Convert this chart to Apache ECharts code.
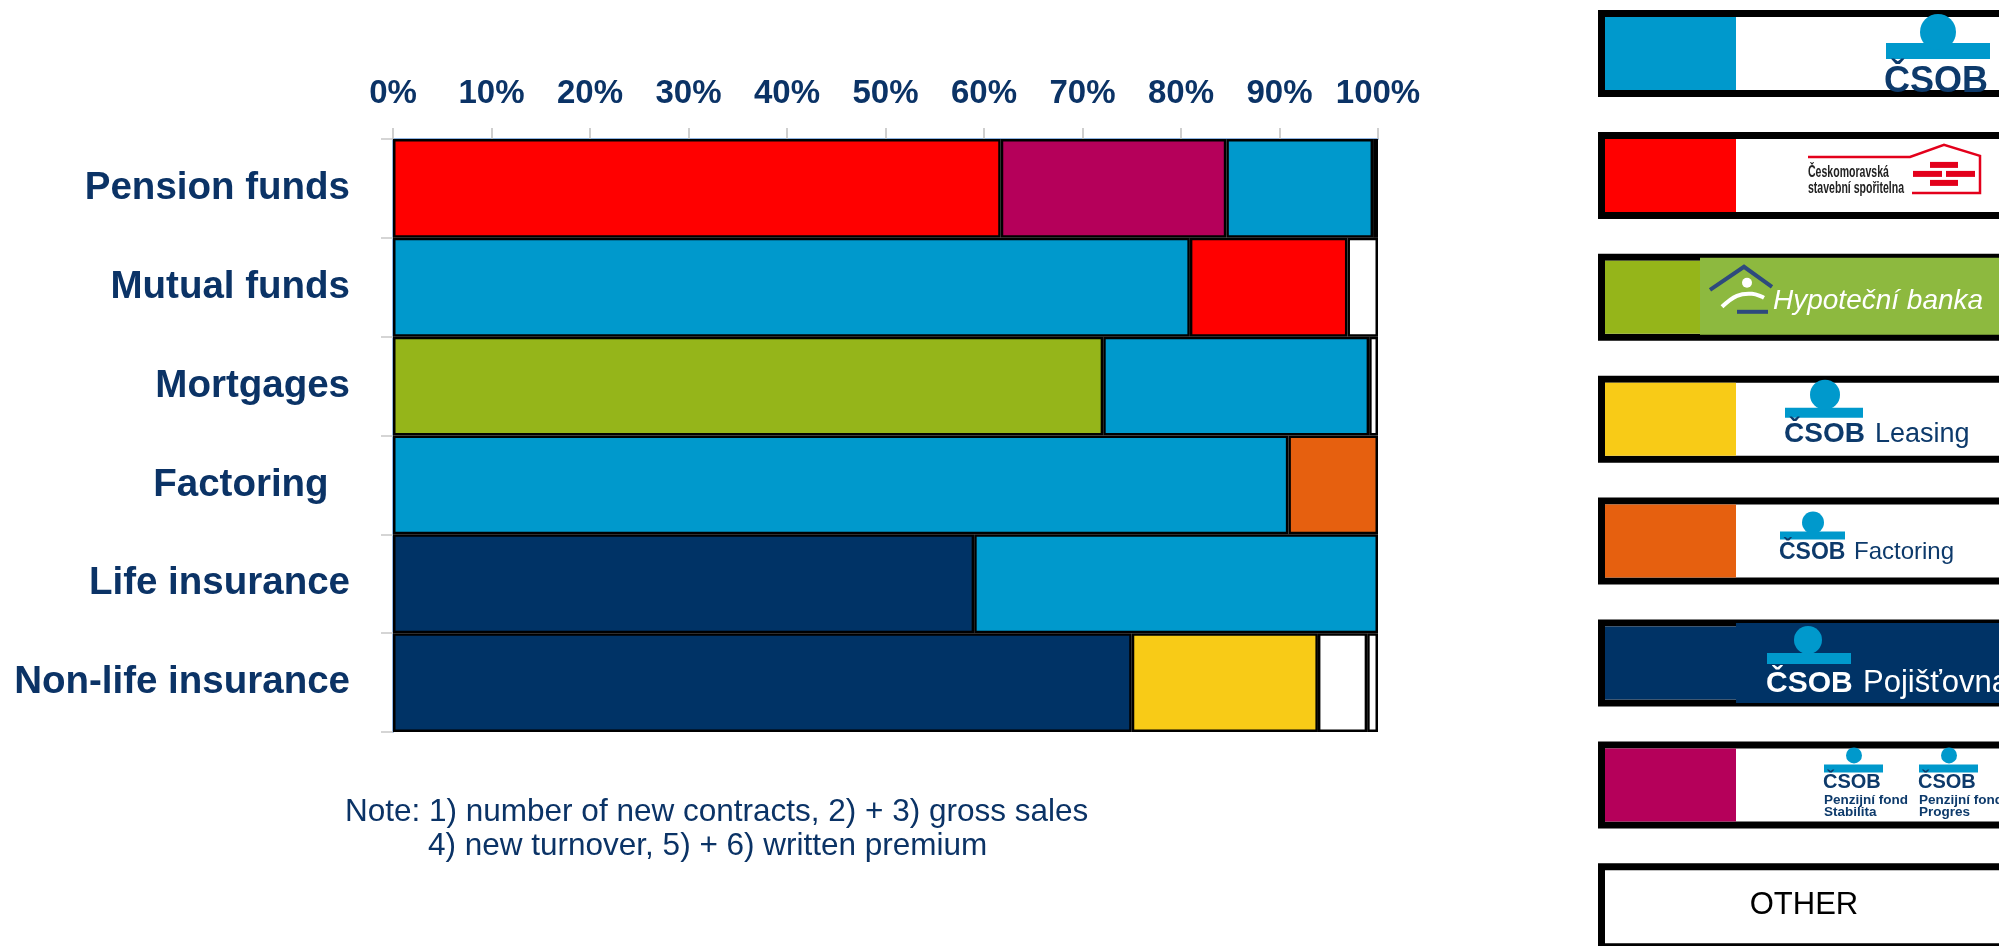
<!DOCTYPE html>
<html>
<head>
<meta charset="utf-8">
<script src="https://cdn.jsdelivr.net/npm/echarts@6/dist/echarts.min.js"></script>
<style>
html,body{margin:0;padding:0;background:#fff;}
#chart{width:1999px;height:946px;}
</style>
</head>
<body>
<div id="chart"></div>
<script>
// ---------- data ----------
const categories = ['Pension funds', 'Mutual funds', 'Mortgages', 'Factoring  ', 'Life insurance', 'Non-life insurance'];
const xTickLabels = ['0%', '10%', '20%', '30%', '40%', '50%', '60%', '70%', '80%', '90%', '100%'];
const companies = ['ČSOB', 'ČMSS', 'Hypoteční banka', 'ČSOB Leasing', 'ČSOB Factoring', 'ČSOB Pojišťovna', 'ČSOB Penzijní fondy', 'Other'];
const companyColors = ['#0099CC', '#FF0000', '#95B51A', '#F8CB17', '#E6600F', '#003366', '#B5005A', '#FFFFFF'];

// market shares (%) in each bar, left to right
const pensionFundsShares = [['ČMSS', 61.7], ['ČSOB Penzijní fondy', 22.9], ['ČSOB', 14.9], ['Other', 0.5]];
const mutualFundsShares = [['ČSOB', 80.9], ['ČMSS', 16.0], ['Other', 3.1]];
const mortgagesShares = [['Hypoteční banka', 72.1], ['ČSOB', 27.0], ['Other', 0.9]];
const factoringShares = [['ČSOB', 90.9], ['ČSOB Factoring', 9.1]];
const lifeInsuranceShares = [['ČSOB Pojišťovna', 59.0], ['ČSOB', 41.0]];
const nonLifeInsuranceShares = [['ČSOB Pojišťovna', 75.0], ['ČSOB Leasing', 18.9], ['Other', 5.0], ['Other', 1.1]];

const noteLines = ['Note: 1) number of new contracts, 2) + 3) gross sales', '4) new turnover, 5) + 6) written premium'];

// ---------- build ----------
const rows = [pensionFundsShares, mutualFundsShares, mortgagesShares, factoringShares, lifeInsuranceShares, nonLifeInsuranceShares];
const colorOf = name => companyColors[companies.indexOf(name)];
const maxSlots = Math.max(...rows.map(r => r.length));
const NAVY = '#0B3366';

const series = [];
for (let s = 0; s < maxSlots; s++) {
  series.push({
    type: 'bar',
    stack: 'share',
    barCategoryGap: '0%',
    silent: true,
    itemStyle: { borderColor: '#000', borderWidth: 2.5 },
    data: rows.map(r => r[s] ? { value: r[s][1], name: r[s][0], itemStyle: { color: colorOf(r[s][0]) } } : '-')
  });
}

// legend boxes (logos as shapes + text)
const legendOrder = ['ČSOB', 'ČMSS', 'Hypoteční banka', 'ČSOB Leasing', 'ČSOB Factoring', 'ČSOB Pojišťovna', 'ČSOB Penzijní fondy', 'Other'];
const LBLUE = '#0099CC', LNAVY = '#0D3A6B';
function csobMark(cx, cy, r, bx, by, bw, bh) {
  return [
    { type: 'rect', shape: { x: bx, y: by, width: bw, height: bh }, style: { fill: LBLUE } },
    { type: 'circle', shape: { cx: cx, cy: cy, r: r }, style: { fill: LBLUE } }
  ];
}
function txt(x, y, text, font, fill, extra) {
  return Object.assign({ type: 'text', x: x, y: y, style: { text: text, font: font, fill: fill, textAlign: 'left', textVerticalAlign: 'middle' } }, extra || {});
}
function logo(name) {
  switch (name) {
    case 'ČSOB':
      return [...csobMark(1938, 22, 18, 1886, 33, 104, 16),
        txt(1884, 72, 'ČSOB', '900 36px "Liberation Sans"', LNAVY, { scaleX: 1.0 })];
    case 'ČMSS':
      return [
        { type: 'polyline', shape: { points: [[1808, 25], [1910, 25], [1944, 13], [1980, 24], [1980, 61], [1912, 61]] }, style: { stroke: '#E3001B', lineWidth: 2.5, fill: null } },
        { type: 'rect', shape: { x: 1930, y: 30, width: 28, height: 6 }, style: { fill: '#E3001B' } },
        { type: 'rect', shape: { x: 1913, y: 39, width: 29, height: 6 }, style: { fill: '#E3001B' } },
        { type: 'rect', shape: { x: 1946, y: 39, width: 29, height: 6 }, style: { fill: '#E3001B' } },
        { type: 'rect', shape: { x: 1930, y: 48, width: 28, height: 6 }, style: { fill: '#E3001B' } },
        txt(1808, 40, 'Českomoravská', 'bold 17px "Liberation Sans"', '#222', { scaleX: 0.62 }),
        txt(1808, 56, 'stavební spořitelna', 'bold 17px "Liberation Sans"', '#222', { scaleX: 0.62 })
      ];
    case 'Hypoteční banka':
      return [
        { type: 'rect', shape: { x: 1700, y: 4, width: 330, height: 77 }, style: { fill: '#8DB93F' } },
        { type: 'polyline', shape: { points: [[1710, 36], [1744, 13], [1772, 33]] }, style: { stroke: '#2E4A7D', lineWidth: 4, fill: null } },
        { type: 'circle', shape: { cx: 1747, cy: 29, r: 5 }, style: { fill: '#fff' } },
        { type: 'polyline', shape: { points: [[1722, 53], [1737, 42], [1752, 40], [1764, 44]], smooth: 0.4 }, style: { stroke: '#fff', lineWidth: 4, fill: null } },
        { type: 'line', shape: { x1: 1737, y1: 58, x2: 1768, y2: 58 }, style: { stroke: '#2E4A7D', lineWidth: 4 } },
        txt(1773, 47, 'Hypoteční banka', 'italic 28px "Liberation Sans"', '#fff')
      ];
    case 'ČSOB Leasing':
      return [...csobMark(1825, 19, 15, 1785, 32, 78, 10),
        txt(1784, 59, 'ČSOB', '900 28px "Liberation Sans"', LNAVY),
        txt(1875, 59, 'Leasing', '27px "Liberation Sans"', LNAVY)];
    case 'ČSOB Factoring':
      return [...csobMark(1813, 25, 11, 1780, 34, 65, 8),
        txt(1779, 55, 'ČSOB', '900 23px "Liberation Sans"', LNAVY),
        txt(1854, 55, 'Factoring', '24px "Liberation Sans"', LNAVY)];
    case 'ČSOB Pojišťovna':
      return [
        { type: 'rect', shape: { x: 1736, y: 3.5, width: 300, height: 80 }, style: { fill: '#003366' } },
        ...csobMark(1808, 20.5, 14, 1767, 33.5, 84, 11),
        txt(1766, 64, 'ČSOB', '900 30px "Liberation Sans"', '#fff'),
        txt(1863, 64, 'Pojišťovna', '31px "Liberation Sans"', '#fff')];
    case 'ČSOB Penzijní fondy': {
      const out = [];
      [[1824, 'Stabilita'], [1919, 'Progres']].forEach(([x, sub]) => {
        out.push(...csobMark(x + 30, 14, 8, x, 23, 59, 8));
        out.push(txt(x - 1, 41, 'ČSOB', '900 20px "Liberation Sans"', LNAVY));
        out.push(txt(x, 59, 'Penzijní fond', 'bold 13.5px "Liberation Sans"', LNAVY));
        out.push(txt(x, 71, sub, 'bold 13.5px "Liberation Sans"', LNAVY));
      });
      return out;
    }
    default:
      return [{ type: 'text', x: 1804, y: 42, style: { text: 'OTHER', font: '31px "Liberation Sans"', fill: '#000', textAlign: 'center', textVerticalAlign: 'middle' } }];
  }
}
const legendGraphics = legendOrder.map((name, i) => {
  const children = [
    { type: 'rect', shape: { x: 1601.5, y: 3.5, width: 420, height: 80 }, style: { fill: '#fff', stroke: '#000', lineWidth: 7 } }
  ];
  if (name !== 'Other') {
    children.push({ type: 'rect', shape: { x: 1605, y: 7, width: name === 'Hypoteční banka' ? 95 : 131, height: 73 }, style: { fill: colorOf(name) } });
  }
  children.push(...logo(name));
  return { type: 'group', x: 0, y: 10 + i * 121.9, silent: true, children: children };
});

const noteGraphics = [
  { type: 'text', x: 345, y: 812, silent: true, style: { text: noteLines[0], font: '31.5px "Liberation Sans"', fill: NAVY, textAlign: 'left', textVerticalAlign: 'middle' } },
  { type: 'text', x: 428, y: 846, silent: true, style: { text: noteLines[1], font: '31.5px "Liberation Sans"', fill: NAVY, textAlign: 'left', textVerticalAlign: 'middle' } }
];

const chart = echarts.init(document.getElementById('chart'), null, { renderer: 'canvas' });
chart.setOption({
  animation: false,
  backgroundColor: '#fff',
  grid: { left: 393, right: 621, top: 139, bottom: 214, containLabel: false },
  xAxis: {
    type: 'value',
    position: 'top',
    min: 0, max: 100, interval: 10,
    axisLine: { show: true, lineStyle: { color: '#8EB4E3', width: 2 } },
    axisTick: { show: true, length: 11, lineStyle: { color: '#C0C0C0', width: 1.5 } },
    splitLine: { show: false },
    axisLabel: {
      margin: 29,
      formatter: v => xTickLabels[Math.round(v / 10)],
      color: NAVY,
      fontFamily: 'Liberation Sans',
      fontWeight: 'bold',
      fontSize: 33,
      showMinLabel: true, showMaxLabel: true
    }
  },
  yAxis: {
    type: 'category',
    inverse: true,
    data: categories,
    axisLine: { show: true, lineStyle: { color: '#8EB4E3', width: 2 } },
    axisTick: { show: true, length: 12, lineStyle: { color: '#C8C8C8', width: 1.5 } },
    axisLabel: {
      margin: 43,
      color: NAVY,
      fontFamily: 'Liberation Sans',
      fontWeight: 'bold',
      fontSize: 38.5
    }
  },
  series: series,
  graphic: [...legendGraphics, ...noteGraphics]
});
</script>
</body>
</html>
